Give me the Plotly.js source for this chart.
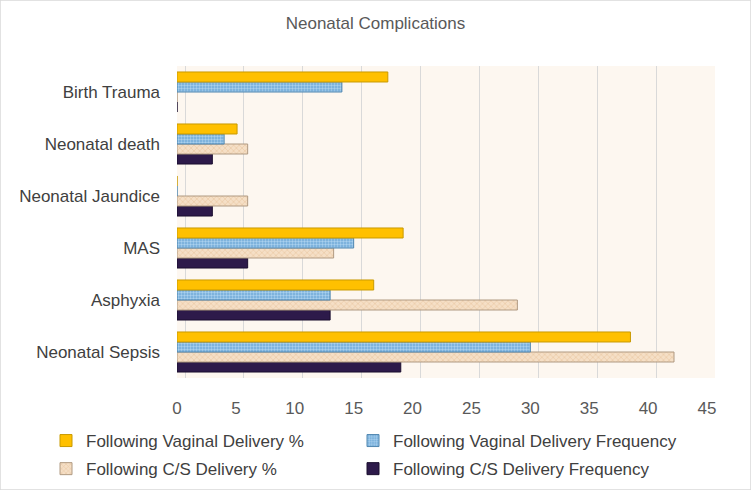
<!DOCTYPE html>
<html>
<head>
<meta charset="utf-8">
<script src="https://cdn.plot.ly/plotly-3.0.1.min.js"></script>
<style>html,body{margin:0;padding:0;background:#fff;}#chart{width:751px;height:490px;}</style>
</head>
<body>
<div id="chart"></div>
<script>
const categories = ["Neonatal Sepsis", "Asphyxia", "MAS", "Neonatal Jaundice", "Neonatal death", "Birth Trauma"];
const vaginalPct = [38.5, 16.7, 19.2, 0, 5.1, 17.9];
const vaginalFreq = [30, 13, 15, 0, 4, 14];
const csPct = [42.2, 28.9, 13.3, 6, 6, 0];
const csFreq = [19, 13, 6, 3, 3, 0];
const xTicks = [0, 5, 10, 15, 20, 25, 30, 35, 40, 45];

const FONT = "Liberation Sans, Arial, sans-serif";

const traces = [
  {name: "Following C/S Delivery Frequency", x: csFreq, y: categories, type: "bar", orientation: "h",
   marker: {color: "#2d1a4a", line: {color: "#1a0e2e", width: 1}},
   legend: "legend2", legendrank: 2, legendgroup: "d"},
  {name: "Following C/S Delivery %", x: csPct, y: categories, type: "bar", orientation: "h",
   marker: {color: "#f2d6b6", line: {color: "#b09a82", width: 1},
            pattern: {shape: "x", fgcolor: "#e6c29b", bgcolor: "#f5dfc6", size: 4, solidity: 0.25}},
   legend: "legend", legendrank: 2, legendgroup: "c"},
  {name: "Following Vaginal Delivery Frequency", x: vaginalFreq, y: categories, type: "bar", orientation: "h",
   marker: {color: "#7eb7e2", line: {color: "#4f86b0", width: 1},
            pattern: {shape: ".", fgcolor: "#a9d0ee", bgcolor: "#6fa9d8", size: 3, solidity: 0.5}},
   legend: "legend2", legendrank: 1, legendgroup: "b"},
  {name: "Following Vaginal Delivery %", x: vaginalPct, y: categories, type: "bar", orientation: "h",
   marker: {color: "#ffc000", line: {color: "#c99a00", width: 1}},
   legend: "legend", legendrank: 1, legendgroup: "a"},
  {x: [0], y: [categories[0]], xaxis: "x2", type: "scatter", mode: "markers",
   marker: {opacity: 0}, showlegend: false, hoverinfo: "skip"}
];

const legendFont = {family: FONT, size: 17, color: "#404040"};

const layout = {
  width: 751, height: 490,
  paper_bgcolor: "#ffffff",
  plot_bgcolor: "#fdf7f0",
  margin: {l: 177, r: 36, t: 66, b: 112, autoexpand: false},
  title: {text: "Neonatal Complications", x: 0.5, xanchor: "center", y: 1 - 23/490, yref: "container", yanchor: "middle",
          font: {family: FONT, size: 17, color: "#595959"}},
  barmode: "group",
  bargap: 0.23,
  bargroupgap: 0,
  showlegend: true,
  legend: {orientation: "v", x: (46 - 177)/538, y: (378 - 423)/312, xanchor: "left", yanchor: "top",
           tracegroupgap: 3, itemwidth: 30, font: legendFont, bgcolor: "rgba(0,0,0,0)"},
  legend2: {orientation: "v", x: (353 - 177)/538, y: (378 - 423)/312, xanchor: "left", yanchor: "top",
            tracegroupgap: 3, itemwidth: 30, font: legendFont, bgcolor: "rgba(0,0,0,0)"},
  xaxis: {range: [0, 45.68], tickvals: xTicks, ticktext: xTicks.map(String), showgrid: false,
          zeroline: false, showline: false, ticks: "", ticklabelstandoff: 18,
          tickfont: {family: FONT, size: 17, color: "#595959"}, fixedrange: true},
  xaxis2: {overlaying: "x", range: [-0.68, 45.0], tickvals: xTicks, showticklabels: false, showgrid: true,
           gridcolor: "#d9d9d9", gridwidth: 1, zeroline: false, showline: false, ticks: "", fixedrange: true},
  yaxis: {categoryorder: "array", categoryarray: categories, showgrid: false, zeroline: false, showline: false,
          ticks: "", ticklabelstandoff: 16,
          tickfont: {family: FONT, size: 17, color: "#404040"}, fixedrange: true},
  shapes: [
    {type: "rect", xref: "paper", yref: "paper", x0: -177/538, x1: 1 + 36/538, y0: -112/312, y1: 1 + 66/312,
     line: {color: "#d9d9d9", width: 1.5}, fillcolor: "rgba(0,0,0,0)"}
  ]
};

Plotly.newPlot("chart", traces, layout, {displayModeBar: false, staticPlot: true});
</script>
</body>
</html>
